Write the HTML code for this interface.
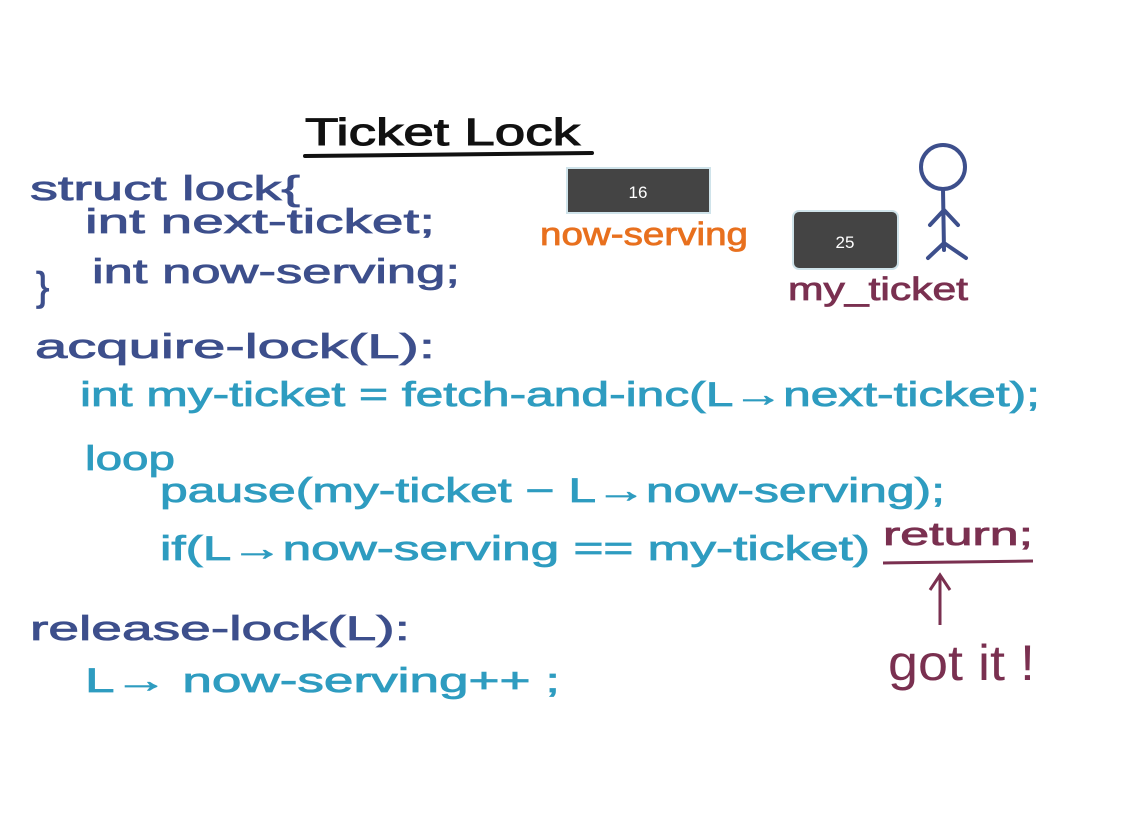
<!DOCTYPE html>
<html><head><meta charset="utf-8"><style>
html,body{margin:0;padding:0;background:#fff;width:1134px;height:822px;overflow:hidden}
svg{display:block}
text{font-family:"Liberation Sans",sans-serif}
</style></head><body>
<svg width="1134" height="822" viewBox="0 0 1134 822" xmlns="http://www.w3.org/2000/svg">
<rect width="1134" height="822" fill="#fff"/>
<text x="305" y="145" font-size="38" fill="#111" stroke="#111" stroke-width="1" textLength="275" lengthAdjust="spacingAndGlyphs">Ticket Lock</text>
<path d="M305 156 L592 153" stroke="#111" stroke-width="4" stroke-linecap="round"/>

<g fill="#3d4f8c" stroke="#3d4f8c" stroke-width="0.8" font-size="34">
<text x="30" y="200" textLength="270" lengthAdjust="spacingAndGlyphs">struct lock{</text>
<text x="85" y="233" textLength="350" lengthAdjust="spacingAndGlyphs">int next-ticket;</text>
<text x="92" y="283" textLength="368" lengthAdjust="spacingAndGlyphs">int now-serving;</text>
<text x="36" y="300" font-size="40">}</text>
<text x="35" y="358" textLength="400" lengthAdjust="spacingAndGlyphs">acquire-lock(L):</text>
<text x="30" y="640" textLength="380" lengthAdjust="spacingAndGlyphs">release-lock(L):</text>
</g>
<g fill="#2e9cc0" stroke="#2e9cc0" stroke-width="0.8" font-size="34">
<text x="80" y="406" textLength="960" lengthAdjust="spacingAndGlyphs">int my-ticket = fetch-and-inc(L→next-ticket);</text>
<text x="85" y="470" textLength="90" lengthAdjust="spacingAndGlyphs">loop</text>
<text x="160" y="502" textLength="785" lengthAdjust="spacingAndGlyphs">pause(my-ticket − L→now-serving);</text>
<text x="160" y="560" textLength="710" lengthAdjust="spacingAndGlyphs">if(L→now-serving == my-ticket)</text>
<text x="85" y="692" textLength="475" lengthAdjust="spacingAndGlyphs">L→ now-serving++ ;</text>
</g>
<text x="883" y="545" font-size="32" fill="#7a3050" stroke="#7a3050" stroke-width="0.8" textLength="150" lengthAdjust="spacingAndGlyphs">return;</text>
<path d="M883 563 L1033 561" stroke="#7a3050" stroke-width="3"/>
<path d="M940 625 L940 576 M930 590 L940 575 L950 590" stroke="#7a3050" stroke-width="3" fill="none"/>
<text x="888" y="680" font-size="50" fill="#7a3050" textLength="147" lengthAdjust="spacingAndGlyphs">got it !</text>

<rect x="567" y="168" width="143" height="45" fill="#444" stroke="#cfe3ea" stroke-width="2"/>
<text x="638" y="198" font-size="17" fill="#fff" text-anchor="middle">16</text>
<rect x="793" y="211" width="105" height="58" rx="6" fill="#444" stroke="#cfe3ea" stroke-width="2"/>
<text x="845" y="248" font-size="17" fill="#fff" text-anchor="middle">25</text>
<text x="540" y="245" font-size="32" fill="#e8701e" stroke="#e8701e" stroke-width="0.8" textLength="208" lengthAdjust="spacingAndGlyphs">now-serving</text>
<text x="788" y="300" font-size="32" fill="#7a3050" stroke="#7a3050" stroke-width="0.8" textLength="180" lengthAdjust="spacingAndGlyphs">my_ticket</text>

<g stroke="#3d4f8c" stroke-width="4" fill="none" stroke-linecap="round">
<circle cx="943" cy="167" r="22"/>
<path d="M943 189 L944 250 M944 210 L930 225 M944 210 L958 225 M944 243 L928 258 M944 243 L966 258"/>
</g>
</svg>
</body></html>
